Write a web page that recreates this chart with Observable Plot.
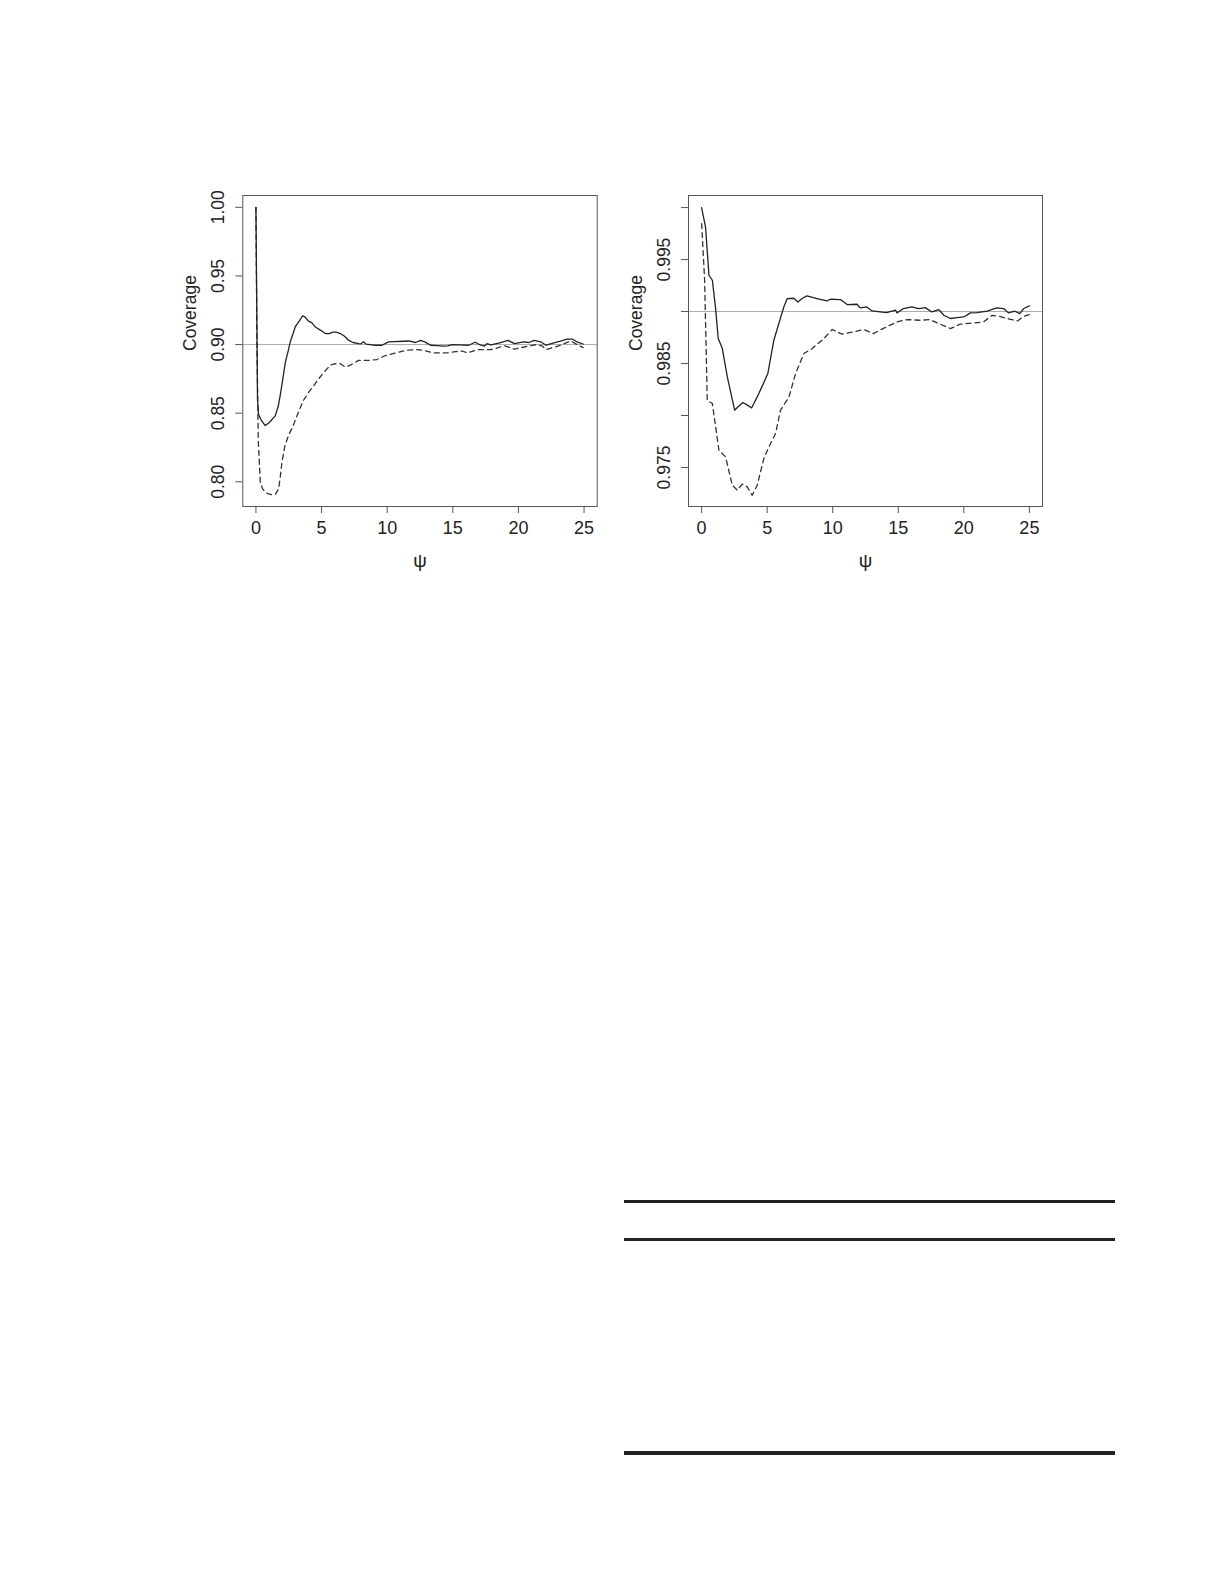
<!DOCTYPE html>
<html>
<head>
<meta charset="utf-8">
<script src="https://cdn.jsdelivr.net/npm/d3@7"></script>
<script src="https://cdn.jsdelivr.net/npm/@observablehq/plot@0.6"></script>
<style>
  html, body { margin: 0; padding: 0; background: #fff; }
  body { position: relative; width: 1225px; height: 1585px; overflow: hidden; font-family: "Liberation Sans", Arial, sans-serif; }
  .panel { position: absolute; }
  .rule { position: absolute; left: 624px; width: 491px; background: #222; }
</style>
</head>
<body>
<div id="left" class="panel" style="left:150px; top:170px;"></div>
<div id="right" class="panel" style="left:600px; top:170px;"></div>
<div class="rule" style="top:1200px; height:3px;"></div>
<div class="rule" style="top:1238px; height:3px;"></div>
<div class="rule" style="top:1451px; height:4px;"></div>
<script>
// ---- shared ----
const xTicks = [0, 5, 10, 15, 20, 25];
const xLabel = "ψ";
const yLabel = "Coverage";

// ---- left panel (nominal 0.90) ----
const leftRef = 0.90;
const leftYTicks = [0.80, 0.85, 0.90, 0.95, 1.00];
const leftYTickLabels = ["0.80", "0.85", "0.90", "0.95", "1.00"];
const leftSolidX = [0, 0.06, 0.12, 0.2, 0.4, 0.71, 1.0, 1.47, 1.7, 1.85, 2.05, 2.24, 2.45, 2.62, 3.0, 3.3, 3.56, 3.75, 4.0, 4.25, 4.5, 5.0, 5.29, 5.6, 5.85, 6.1, 6.44, 6.75, 7.07, 7.4, 7.83, 8.0, 8.2, 8.4, 8.7, 9.1, 9.6, 10.1, 10.6, 11.2, 11.65, 12.16, 12.54, 12.9, 13.3, 13.8, 14.3, 14.6, 14.96, 15.5, 16.2, 16.7, 17.1, 17.4, 17.6, 17.9, 18.5, 19.2, 19.7, 20.4, 20.8, 21.2, 21.7, 22.1, 22.7, 23.2, 23.7, 24.1, 24.5, 24.93];
const leftSolidY = [1.0, 0.93, 0.86, 0.849, 0.845, 0.841, 0.843, 0.848, 0.855, 0.863, 0.875, 0.887, 0.895, 0.902, 0.913, 0.917, 0.921, 0.920, 0.917, 0.916, 0.913, 0.910, 0.908, 0.908, 0.909, 0.909, 0.908, 0.906, 0.903, 0.9015, 0.9007, 0.9005, 0.902, 0.9003, 0.9, 0.8995, 0.8995, 0.902, 0.9022, 0.9024, 0.9026, 0.9015, 0.903, 0.9018, 0.8995, 0.8992, 0.8988, 0.899, 0.900, 0.8998, 0.8995, 0.9017, 0.8997, 0.8988, 0.9007, 0.8997, 0.901, 0.903, 0.9007, 0.902, 0.9015, 0.903, 0.902, 0.8995, 0.9012, 0.9025, 0.904, 0.904, 0.9017, 0.9004];
const leftDashedX = [0, 0.08, 0.18, 0.33, 0.5, 0.71, 1.0, 1.22, 1.5, 1.73, 1.85, 1.98, 2.2, 2.49, 2.8, 3.25, 3.6, 4.0, 4.4, 4.78, 5.2, 5.67, 6.0, 6.44, 6.8, 7.2, 7.83, 8.6, 9.2, 9.87, 10.5, 11.4, 12.3, 12.9, 13.5, 14.6, 15.2, 15.7, 16.1, 16.9, 17.9, 18.4, 18.9, 19.7, 20.7, 21.4, 21.8, 22.1, 23.0, 24.0, 24.5, 24.93];
const leftDashedY = [1.0, 0.90, 0.83, 0.80, 0.795, 0.7924, 0.791, 0.7907, 0.791, 0.795, 0.803, 0.814, 0.826, 0.834, 0.840, 0.851, 0.859, 0.865, 0.870, 0.875, 0.880, 0.885, 0.886, 0.886, 0.8837, 0.885, 0.8885, 0.8885, 0.889, 0.892, 0.8935, 0.8958, 0.8963, 0.8955, 0.8939, 0.8939, 0.8948, 0.8953, 0.8939, 0.8963, 0.8963, 0.8975, 0.8992, 0.8966, 0.8988, 0.900, 0.899, 0.8963, 0.8988, 0.9026, 0.8997, 0.8978];

// ---- right panel (nominal 0.99) ----
const rightRef = 0.99;
const rightYTicks = [0.975, 0.980, 0.985, 0.990, 0.995, 1.000];
const rightYTickLabels = ["0.975", "", "0.985", "", "0.995", ""];
const rightSolidX = [0, 0.3, 0.56, 0.82, 1.05, 1.27, 1.58, 1.96, 2.52, 2.72, 3.15, 3.5, 3.81, 4.24, 4.65, 5.05, 5.51, 5.89, 6.27, 6.53, 7.03, 7.34, 7.66, 8.03, 8.8, 9.56, 9.83, 10.59, 11.1, 11.85, 12.1, 12.6, 13.0, 14.1, 14.8, 14.9, 15.4, 16.04, 16.55, 17.06, 17.56, 18.1, 18.47, 18.98, 19.49, 19.99, 20.5, 21.0, 21.77, 22.5, 23.04, 23.4, 23.9, 24.27, 24.57, 25.0];
const rightSolidY = [1.000, 0.99813, 0.99349, 0.99301, 0.9905, 0.9874, 0.98644, 0.98371, 0.98051, 0.98077, 0.98125, 0.9810, 0.98073, 0.98179, 0.9829, 0.98404, 0.98724, 0.98885, 0.99044, 0.99125, 0.99128, 0.99092, 0.99125, 0.9915, 0.99125, 0.99102, 0.99118, 0.99115, 0.99067, 0.9907, 0.99035, 0.99044, 0.99006, 0.9899, 0.99013, 0.98987, 0.99029, 0.99044, 0.99029, 0.99038, 0.98996, 0.99019, 0.98964, 0.98933, 0.98942, 0.98948, 0.98987, 0.9899, 0.99003, 0.99035, 0.99029, 0.98987, 0.99003, 0.9898, 0.99029, 0.99054];
const rightDashedX = [0, 0.23, 0.43, 0.82, 1.32, 1.83, 2.34, 2.72, 3.1, 3.48, 3.86, 4.24, 4.75, 5.13, 5.64, 6.02, 6.66, 7.17, 7.8, 8.44, 9.32, 9.96, 10.7, 11.6, 12.36, 13.1, 14.1, 14.9, 15.66, 16.68, 17.4, 18.2, 18.98, 19.7, 20.75, 21.5, 22.16, 22.66, 23.3, 24.1, 24.57, 25.0];
const rightDashedY = [0.99846, 0.99301, 0.98147, 0.98115, 0.97666, 0.97602, 0.9733, 0.97282, 0.9734, 0.97314, 0.97234, 0.9733, 0.97587, 0.97698, 0.97827, 0.98051, 0.98179, 0.98404, 0.98596, 0.98644, 0.9874, 0.98827, 0.98782, 0.98804, 0.98827, 0.98788, 0.98852, 0.989, 0.98923, 0.98916, 0.98923, 0.98878, 0.98836, 0.98878, 0.9889, 0.989, 0.98964, 0.98955, 0.98933, 0.9891, 0.98955, 0.98971];

function pairs(xs, ys) { return xs.map((x, i) => ({x, y: ys[i]})); }

function panel({yDomain, ref, yTicks, yTickLabels, solid, dashed, marginLeft, marginRight}) {
  const labelMap = new Map(yTicks.map((t, i) => [t, yTickLabels[i]]));
  return Plot.plot({
    width: 470,
    height: 420,
    marginLeft,
    marginRight,
    marginTop: 25,
    marginBottom: 84,
    style: {fontFamily: "'Liberation Sans', Arial, sans-serif", fontSize: "18px", color: "#222", background: "#fff"},
    x: {domain: [-1, 26]},
    y: {domain: yDomain},
    marks: [
      Plot.ruleY([ref], {stroke: "#aaa", strokeWidth: 1}),
      Plot.line(dashed, {x: "x", y: "y", stroke: "#333", strokeWidth: 1.3, strokeDasharray: "5,4"}),
      Plot.line(solid, {x: "x", y: "y", stroke: "#222", strokeWidth: 1.3}),
      Plot.frame({stroke: "#555", strokeWidth: 1}),
      Plot.axisX({ticks: xTicks, tickSize: 7, tickPadding: 7.5, fontSize: 18, label: null, stroke: "#555"}),
      Plot.axisY({ticks: yTicks, tickSize: 7, tickPadding: 12, fontSize: 17.5, label: null, stroke: "#555",
                  tickFormat: d => labelMap.get(d), tickRotate: -90, textAnchor: "middle"}),
      Plot.text([yLabel], {text: d => d, frameAnchor: "left", dx: -52, rotate: -90, fontSize: 17.5, fill: "#222"}),
      Plot.text([xLabel], {text: d => d, frameAnchor: "bottom", dy: 60, fontSize: 19, fill: "#222"})
    ]
  });
}

document.getElementById("left").appendChild(panel({
  yDomain: [0.782, 1.0086], ref: leftRef, yTicks: leftYTicks, yTickLabels: leftYTickLabels,
  solid: pairs(leftSolidX, leftSolidY), dashed: pairs(leftDashedX, leftDashedY),
  marginLeft: 92.3, marginRight: 23.3
}));
document.getElementById("right").appendChild(panel({
  yDomain: [0.97125, 1.00116], ref: rightRef, yTicks: rightYTicks, yTickLabels: rightYTickLabels,
  solid: pairs(rightSolidX, rightSolidY), dashed: pairs(rightDashedX, rightDashedY),
  marginLeft: 88, marginRight: 28
}));
</script>
</body>
</html>
